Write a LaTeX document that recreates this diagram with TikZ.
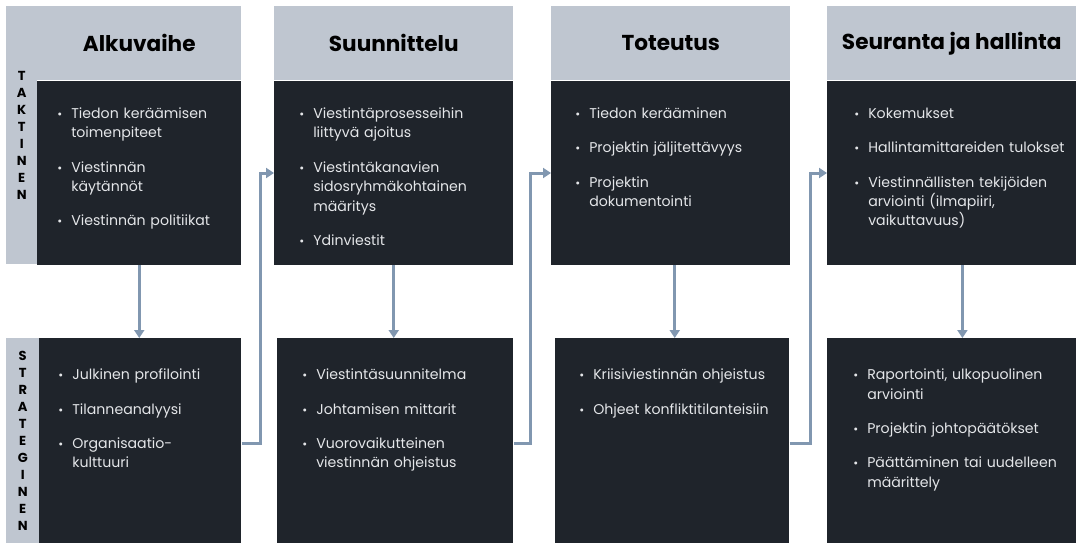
\documentclass[tikz,border=0pt]{standalone}
\usepackage{fontspec}
\setmainfont{Poppins}
\usetikzlibrary{positioning,arrows.meta}

\definecolor{headgray}{HTML}{BFC6D0}
\definecolor{panelbg}{HTML}{1F242B}
\definecolor{flowblue}{HTML}{8197B0}
\definecolor{itemtext}{HTML}{E4E6E9}

% one bullet point with hanging indent
\newcommand{\itm}[1]{\par\noindent\hangindent=10.5pt\hangafter=1\makebox[10.5pt][l]{\small•}#1\par}

\begin{document}
\begin{tikzpicture}[x=0.75pt,y=-0.75pt,
	sized/.style 2 args={minimum width=#1*0.75pt,minimum height=#2*0.75pt},
	head/.style={fill=headgray,anchor=north west,inner sep=0pt,text=black,
		font=\bfseries\fontsize{16.2}{19}\selectfont},
	panel/.style={fill=panelbg,anchor=north west,inner sep=0pt},
	side/.style={fill=headgray,anchor=north west,inner sep=0pt,align=center,text=black,
		font=\bfseries\fontsize{9.8}{12.8}\selectfont},
	items/.style={anchor=north west,inner sep=0pt,text=itemtext,text width=#1*0.75pt,align=left,
		font=\fontsize{10.6}{14.6}\selectfont,
		execute at begin node={\setlength{\parskip}{11.2pt}}},
	flow/.style={draw=flowblue,line width=2.25pt,-{Triangle[width=7.5pt,length=6pt]}}]
	\useasboundingbox (0,0) rectangle (1076,543);
	% column 1
	\node[side,sized={31}{258}] (tak) at (6,6) {T\\A\\K\\T\\I\\N\\E\\N};
	\node[head,sized={204}{74}] (h1) at (37,6) {Alkuvaihe};
	\node[panel,sized={204}{184},below=0pt of h1] (top1) {};
	\node[side,sized={33}{205}] (str) at (6,338) {S\\T\\R\\A\\T\\E\\G\\I\\N\\E\\N};
	\node[panel,sized={202}{205}] (low1) at (39,338) {};
	% column 2
	\node[head,sized={239}{74}] (h2) at (274,6) {Suunnittelu};
	\node[panel,sized={239}{184},below=0pt of h2] (top2) {};
	\node[panel,sized={236}{205}] (low2) at (277,338) {};
	% column 3
	\node[head,sized={239}{74}] (h3) at (551,6) {Toteutus};
	\node[panel,sized={239}{184},below=0pt of h3] (top3) {};
	\node[panel,sized={234}{205}] (low3) at (555,338) {};
	% column 4
	\node[head,sized={249}{74}] (h4) at (827,6) {Seuranta ja hallinta};
	\node[panel,sized={249}{184},below=0pt of h4] (top4) {};
	\node[panel,sized={249}{205}] (low4) at (827,338) {};

	% lists
	\node[items=180] (l1a) at ([shift={(20,3)}]top1.north west) {%
		\itm{Tiedon keräämisen\newline toimenpiteet}
		\itm{Viestinnän\newline käytännöt}
		\itm{Viestinnän politiikat}};
	\node[items=180] (l1b) at ([shift={(19,7)}]low1.north west) {%
		\itm{Julkinen profilointi}
		\itm{Tilanneanalyysi}
		\itm{Organisaatio-\newline kulttuuri}};
	\node[items=210] (l2a) at ([shift={(25,3)}]top2.north west) {%
		\itm{Viestintäprosesseihin\newline liittyvä ajoitus}
		\itm{Viestintäkanavien\newline sidosryhmäkohtainen\newline määritys}
		\itm{Ydinviestit}};
	\node[items=210] (l2b) at ([shift={(25,7)}]low2.north west) {%
		\itm{Viestintäsuunnitelma}
		\itm{Johtamisen mittarit}
		\itm{Vuorovaikutteinen\newline viestinnän ohjeistus}};
	\node[items=212] (l3a) at ([shift={(24,3)}]top3.north west) {%
		\itm{Tiedon kerääminen}
		\itm{Projektin jäljitettävyys}
		\itm{Projektin\newline dokumentointi}};
	\node[items=208] (l3b) at ([shift={(24,7)}]low3.north west) {%
		\itm{Kriisiviestinnän ohjeistus}
		\itm{Ohjeet konfliktitilanteisiin}};
	\node[items=222] (l4a) at ([shift={(27,3)}]top4.north west) {%
		\itm{Kokemukset}
		\itm{Hallintamittareiden tulokset}
		\itm{Viestinnällisten tekijöiden\newline arviointi (ilmapiiri,\newline vaikuttavuus)}};
	\node[items=222] (l4b) at ([shift={(26,7)}]low4.north west) {%
		\itm{Raportointi, ulkopuolinen\newline arviointi}
		\itm{Projektin johtopäätökset}
		\itm{Päättäminen tai uudelleen\newline määrittely}};

	% arrows
	\draw[flow] (top1.south) -- (top1.south |- low1.north);
	\draw[flow] (top2.south) -- (top2.south |- low2.north);
	\draw[flow] ([xshift=3pt]top3.south) -- ([xshift=3pt]top3.south |- low3.north);
	\draw[flow] ([xshift=8pt]top4.south) -- ([xshift=8pt]top4.south |- low4.north);
	\draw[flow] (low1.east |- 0,443) -- ++(19,0) |- (top2.west |- 0,173);
	\draw[flow] (low2.east |- 0,443) -- ++(17,0) |- (top3.west |- 0,173);
	\draw[flow] (low3.east |- 0,443) -- ++(21,0) |- (top4.west |- 0,173);
\end{tikzpicture}
\end{document}
